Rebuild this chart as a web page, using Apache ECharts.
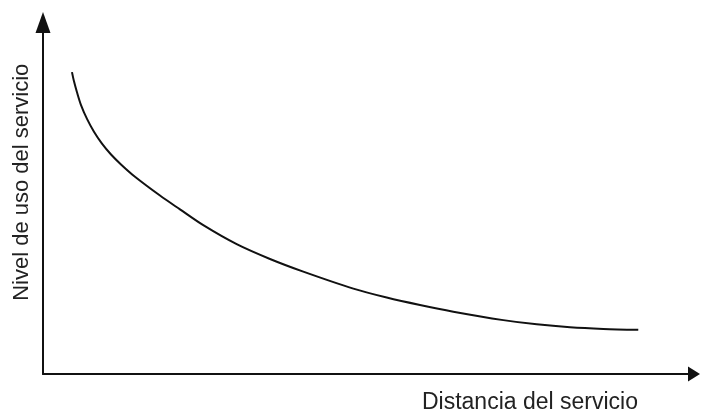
<!DOCTYPE html>
<html>
<head>
<meta charset="utf-8">
<script src="https://cdn.jsdelivr.net/npm/echarts@6/dist/echarts.min.js"></script>
<style>html,body{margin:0;padding:0;background:#fff}#c{width:702px;height:414px}</style>
</head>
<body>
<div id="c"></div>
<script>
// Distance (x) and usage level (y), relative units
var distancia = [4.45, 4.76, 5.22, 5.84, 6.76, 7.83, 9.06, 10.45, 11.98, 14.13, 17.97, 21.04, 24.62, 29.75, 34.87, 39.98, 47.67, 52.80, 57.91, 63.03, 70.71, 75.84, 80.95, 86.07, 91.44];
var nivelUso  = [85.88, 83.26, 80.17, 76.51, 72.57, 68.92, 65.54, 62.45, 59.63, 56.12, 50.77, 46.84, 42.33, 36.93, 32.71, 29.11, 24.28, 21.74, 19.61, 17.72, 15.33, 14.12, 13.30, 12.83, 12.57];
var xAxisName = 'Distancia del servicio';
var yAxisName = 'Nivel de uso del servicio';

var points = distancia.map(function (x, i) { return [x, nivelUso[i]]; });
var ink = '#111';
var font = 'Liberation Sans, Arial, sans-serif';

var chart = echarts.init(document.getElementById('c'), null, {renderer: 'canvas'});
chart.setOption({
  animation: false,
  backgroundColor: '#fff',
  grid: {left: 43, right: 8, top: 22.5, bottom: 36, containLabel: false},
  xAxis: {
    type: 'value', min: 0, max: 100,
    name: xAxisName, nameLocation: 'end', nameGap: -56,
    nameTextStyle: {color: '#222', fontFamily: font, fontSize: 23, align: 'right', verticalAlign: 'top', padding: [17, 0, 0, 0]},
    axisLine: {show: true, symbol: ['none', 'triangle'], symbolSize: [15, 12], lineStyle: {color: ink, width: 2}},
    axisTick: {show: false}, axisLabel: {show: false}, splitLine: {show: false}
  },
  yAxis: {
    type: 'value', min: 0, max: 100,
    name: yAxisName, nameLocation: 'middle', nameRotate: 90, nameGap: 10,
    nameTextStyle: {color: '#222', fontFamily: font, fontSize: 22, padding: [0, 0, 0, 32]},
    axisLine: {show: true, symbol: ['none', 'triangle'], symbolSize: [15, 21], lineStyle: {color: ink, width: 2}},
    axisTick: {show: false}, axisLabel: {show: false}, splitLine: {show: false}
  },
  series: [{
    type: 'line', data: points, smooth: 0.3, showSymbol: false,
    lineStyle: {color: ink, width: 2}
  }]
});
</script>
</body>
</html>
